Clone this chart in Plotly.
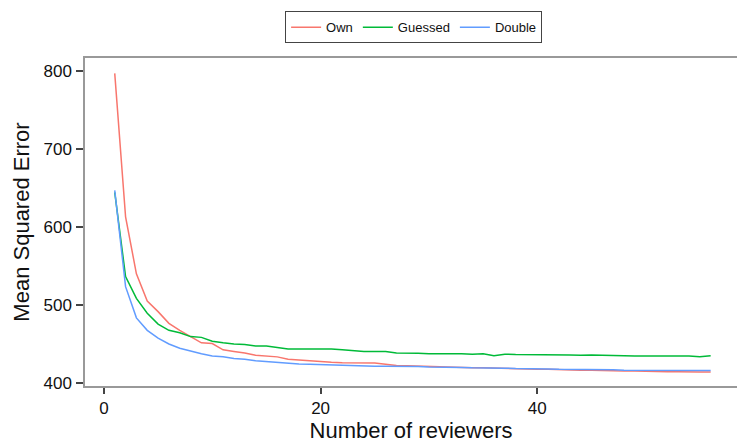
import plotly.graph_objects as go

reviewers = list(range(1, 57))

own = [797, 613, 540, 505, 491.5, 476.5, 467.5, 459.5, 451.5, 450.5,
       442.5, 440.5, 438.5, 435.5, 434.5, 433.5, 430.5, 429.5, 428.5, 427,
       426.5, 426, 426, 425.5, 425.5, 424, 422.5, 422, 421.5, 421,
       420.5, 420.5, 420, 419.5, 419.5, 419, 418.5, 418.5, 418, 417.5,
       417.5, 417, 417, 416.5, 416.5, 416, 416, 415.5, 415.5, 415,
       415, 414.5, 414.5, 414, 414, 414]

guessed = [644.5, 536.5, 508.5, 489.5, 475.5, 467.5, 464.5, 459.5, 458.5, 453.5,
           451.5, 450, 449.5, 447.5, 447.5, 445.5, 443.5, 443.5, 443.5, 443.5,
           443.5, 442.5, 441.5, 440.5, 440.5, 440.5, 438.5, 438.5, 438, 437.5,
           437.5, 438, 437.5, 437, 437.5, 435, 437, 436.5, 436.5, 436,
           436.5, 436, 436, 435.5, 436, 435.5, 435, 435, 434.5, 434.5,
           434.5, 434.5, 434.5, 434.5, 433.5, 435]

double = [647, 523.5, 483.5, 467.5, 457.5, 450, 444.5, 440.5, 437.5, 434.5,
          433.5, 431.5, 430.5, 428.5, 427.5, 426, 425, 424.5, 424, 423.5,
          423.5, 422.5, 422.5, 421.5, 421.5, 421.5, 421.5, 421, 421, 420.5,
          420.5, 420, 420, 419.5, 419.5, 419, 419, 418.5, 418.5, 418,
          418, 417.5, 417.5, 417.5, 417, 417, 417, 416.5, 416.5, 416.5,
          416.5, 416, 416, 416, 416, 416]

series = [("Own", own, "#F8766D"), ("Guessed", guessed, "#00BA38"), ("Double", double, "#619CFF")]

fig = go.Figure()
for name, vals, col in series:
    fig.add_trace(go.Scatter(x=reviewers, y=vals, mode="lines", name=name,
                             line=dict(color=col, width=1.5)))

font = "Liberation Sans, Arial, Helvetica, sans-serif"
fig.update_layout(
    width=737, height=443,
    margin=dict(l=85.3, r=0, t=57.7, b=57, autoexpand=False),
    paper_bgcolor="white", plot_bgcolor="white",
    font=dict(family=font, color="#111111"),
    showlegend=True,
    legend=dict(orientation="h", x=0.504, xanchor="center", y=1.0935, yanchor="middle",
                bordercolor="#444444", borderwidth=1, font=dict(size=13, family=font),
                itemwidth=30, tracegroupgap=0),
    xaxis=dict(range=[-1.745, 58.43], tickvals=[0, 20, 40], showgrid=False, zeroline=False,
               showline=True, linecolor="#999999", linewidth=1.5, mirror=True,
               ticks="outside", ticklen=6, tickwidth=1.5, tickcolor="#444444",
               ticklabelstandoff=0,
               tickfont=dict(size=17, family=font, color="#111111"), automargin=False,
               title=dict(text="Number of reviewers", font=dict(size=22, family=font), standoff=13)),
    yaxis=dict(range=[396.15, 816.7], tickvals=[400, 500, 600, 700, 800], showgrid=False, zeroline=False,
               showline=True, linecolor="#999999", linewidth=1.5,
               ticks="outside", ticklen=7, tickwidth=1.5, tickcolor="#444444",
               ticklabelstandoff=1,
               tickfont=dict(size=17, family=font, color="#111111"), automargin=False,
               title=dict(text="Mean Squared Error", font=dict(size=22, family=font), standoff=8)),
)

fig.write_html("out.html", config={"displayModeBar": False},
               post_script="document.body.style.margin='0';document.body.style.overflow='hidden';")
